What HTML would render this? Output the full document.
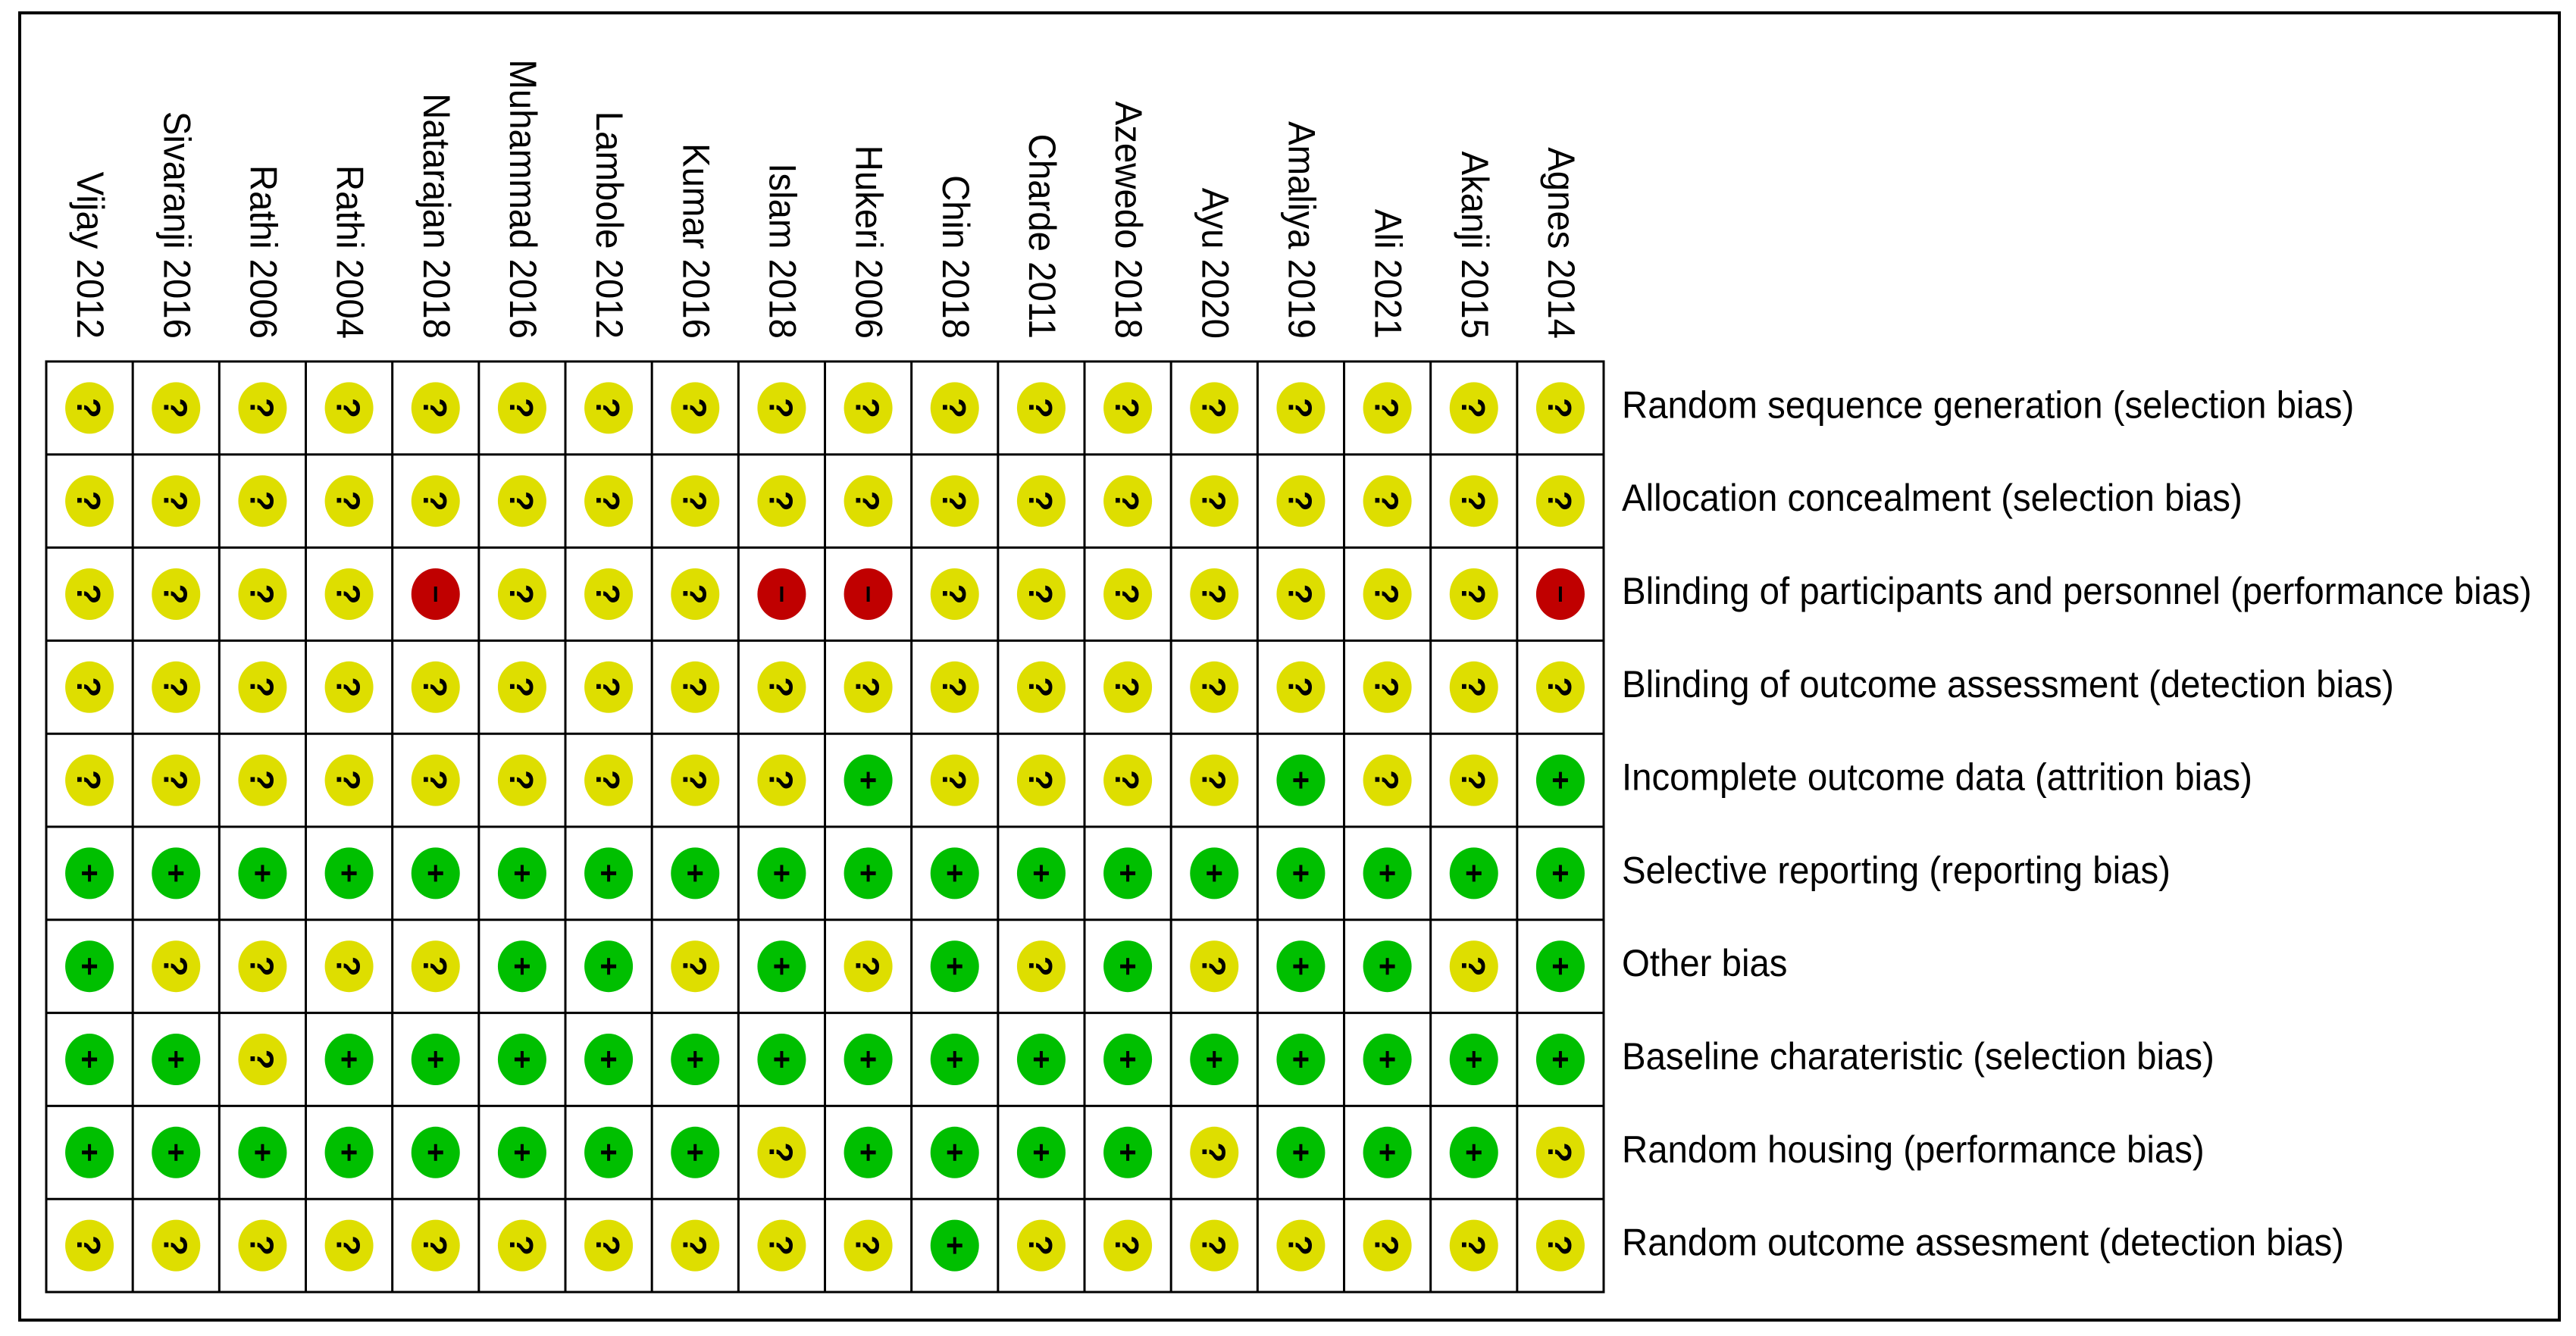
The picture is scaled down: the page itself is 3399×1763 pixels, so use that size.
<!DOCTYPE html>
<html><head><meta charset="utf-8"><style>
html,body{margin:0;padding:0;background:#fff;}
svg{display:block;}
text{font-family:"Liberation Sans",sans-serif;fill:#000;}
</style></head><body>
<svg id="chart" width="3399" height="1763" viewBox="0 0 3399 1763" xmlns="http://www.w3.org/2000/svg">
<rect x="26" y="17" width="3351" height="1725" fill="#fff" stroke="#000" stroke-width="4"/>
<g id="grid"></g>
<g id="marks"></g>
<g id="collabels"></g>
<g id="rowlabels"></g>
</svg>
<script>
const studies = ["Vijay 2012","Sivaranji 2016","Rathi 2006","Rathi 2004","Natarajan 2018","Muhammad 2016","Lambole 2012","Kumar 2016","Islam 2018","Hukeri 2006","Chin 2018","Charde 2011","Azewedo 2018","Ayu 2020","Amaliya 2019","Ali 2021","Akanji 2015","Agnes 2014"];
const domains = ["Random sequence generation (selection bias)","Allocation concealment (selection bias)","Blinding of participants and personnel (performance bias)","Blinding of outcome assessment (detection bias)","Incomplete outcome data (attrition bias)","Selective reporting (reporting bias)","Other bias","Baseline charateristic (selection bias)","Random housing (performance bias)","Random outcome assesment (detection bias)"];
const row1 = ["?","?","?","?","?","?","?","?","?","?","?","?","?","?","?","?","?","?"];
const row2 = ["?","?","?","?","?","?","?","?","?","?","?","?","?","?","?","?","?","?"];
const row3 = ["?","?","?","?","-","?","?","?","-","-","?","?","?","?","?","?","?","-"];
const row4 = ["?","?","?","?","?","?","?","?","?","?","?","?","?","?","?","?","?","?"];
const row5 = ["?","?","?","?","?","?","?","?","?","+","?","?","?","?","+","?","?","+"];
const row6 = ["+","+","+","+","+","+","+","+","+","+","+","+","+","+","+","+","+","+"];
const row7 = ["+","?","?","?","?","+","+","?","+","?","+","?","+","?","+","+","?","+"];
const row8 = ["+","+","?","+","+","+","+","+","+","+","+","+","+","+","+","+","+","+"];
const row9 = ["+","+","+","+","+","+","+","+","?","+","+","+","+","?","+","+","+","?"];
const row10 = ["?","?","?","?","?","?","?","?","?","?","+","?","?","?","?","?","?","?"];
const judgements = [row1,row2,row3,row4,row5,row6,row7,row8,row9,row10];

const NS="http://www.w3.org/2000/svg";
const gx0=61, gx1=2116, gy0=477, gy1=1705;
const cw=(gx1-gx0)/studies.length, rh=(gy1-gy0)/domains.length;
const colX=i=>gx0+cw*(i+0.5);
const rowY=j=>gy0+rh*(j+0.5);
const colors={"?":"#dede00","+":"#00bf00","-":"#c00000"};
function mk(tag,attrs,parent){const e=document.createElementNS(NS,tag);for(const k in attrs)e.setAttribute(k,attrs[k]);parent.appendChild(e);return e;}

const grid=document.getElementById('grid');
const gr=mk('rect',{x:gx0,y:gy0,width:gx1-gx0,height:gy1-gy0,fill:'#fff',stroke:'#000','stroke-width':3},grid);


for(let i=1;i<studies.length;i++){
  const l=mk('line',{x1:gx0+cw*i,x2:gx0+cw*i,y1:gy0,y2:gy1,stroke:'#000','stroke-width':3},grid);
  
  
}
for(let j=1;j<domains.length;j++){
  const l=mk('line',{x1:gx0,x2:gx1,y1:gy0+rh*j,y2:gy0+rh*j,stroke:'#000','stroke-width':3},grid);
  
  
}

const marks=document.getElementById('marks');
judgements.forEach((row,j)=>{
  row.forEach((v,i)=>{
    const cx=colX(i), cy=rowY(j);
    const g=mk('g',{},marks);
    
    
    mk('ellipse',{cx:cx,cy:cy,rx:32,ry:34,fill:colors[v]},g);
    if(v==='+'){
      mk('rect',{x:cx-10,y:cy-2.5,width:20,height:5,fill:'#000'},g);
      mk('rect',{x:cx-2,y:cy-11,width:4,height:22,fill:'#000'},g);
    } else if(v==='-'){
      mk('rect',{x:cx-2,y:cy-10,width:4,height:20,fill:'#000'},g);
    } else {
      const t=mk('text',{x:0,y:0,'font-size':44,'font-weight':'bold','text-anchor':'middle',transform:`translate(${cx-16},${cy}) rotate(90)`},g);
      t.textContent='?';
    }
  });
});

const cl=document.getElementById('collabels');
const rl=document.getElementById('rowlabels');
const FS=50;
const colTexts=studies.map((s,i)=>{
  const t=mk('text',{x:0,y:0,'font-size':FS,'text-anchor':'end'},cl);
  
  
  t.textContent=s;
  return t;
});
const rowTexts=domains.map((d,j)=>{
  const t=mk('text',{x:0,y:0,'font-size':FS},rl);
  
  
  t.textContent=d;
  return t;
});
let maxW=0; rowTexts.forEach(t=>{maxW=Math.max(maxW,t.getComputedTextLength());});
const sx=maxW>0?1201/maxW:0.9;
rowTexts.forEach((t,j)=>{t.setAttribute('transform',`translate(2140,${rowY(j)+13}) scale(${sx},1)`);});
colTexts.forEach((t,i)=>{t.setAttribute('transform',`translate(${colX(i)-16},447) rotate(90) scale(${sx},1)`);});
</script>
</body></html>
